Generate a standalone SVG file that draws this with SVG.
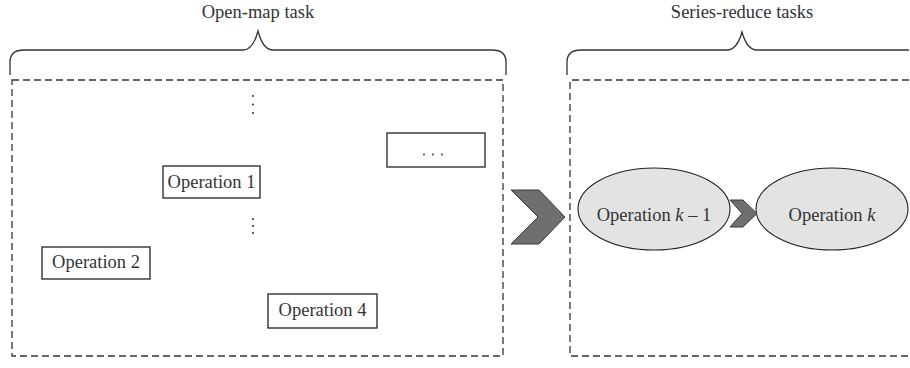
<svg xmlns="http://www.w3.org/2000/svg" width="910" height="368" viewBox="0 0 910 368">
  <style>
    .lbl { font-family: "Liberation Serif", "DejaVu Serif", serif; font-size: 18.5px; fill: #333; }
    .brace { fill: none; stroke: #333; stroke-width: 1.3; }
    .frame { fill: none; stroke: #333; stroke-width: 1.3; stroke-dasharray: 7 4; }
    .box { fill: #fff; stroke: #222; stroke-width: 1.3; }
    .oval { fill: #e3e3e3; stroke: #222; stroke-width: 1.1; }
    .chev { fill: #6f6f6f; stroke: #3a3a3a; stroke-width: 1; stroke-linejoin: miter; }
    .dot { fill: #333; }
  </style>

  <!-- Open-map task: title, brace, frame -->
  <g id="open-map">
    <text class="lbl" x="258" y="18" text-anchor="middle">Open-map task</text>
    <path class="brace" d="M10 75 V62 Q10 50 24 50 H243 Q253 50 258 31 Q263 50 273 50 H492 Q506 50 506 62 V75"/>
    <rect class="frame" x="12" y="80" width="491" height="276"/>
  </g>

  <!-- Series-reduce tasks: title, brace, frame -->
  <g id="series-reduce">
    <text class="lbl" x="742" y="18" text-anchor="middle">Series-reduce tasks</text>
    <path class="brace" d="M567 75 V62 Q567 50 581 50 H727 Q737 50 742 32 Q747 50 757 50 H909"/>
    <path class="frame" d="M909 80 H570 V356 H909"/>
  </g>

  <!-- vertical ellipses -->
  <g id="vdots-top">
    <circle class="dot" cx="253" cy="96" r="1"/>
    <circle class="dot" cx="253" cy="104.5" r="1"/>
    <circle class="dot" cx="253" cy="113" r="1"/>
  </g>
  <g id="vdots-mid">
    <circle class="dot" cx="253" cy="219" r="1"/>
    <circle class="dot" cx="253" cy="226" r="1"/>
    <circle class="dot" cx="253" cy="233" r="1"/>
  </g>

  <g id="op-more">
    <rect class="box" x="387" y="133" width="98" height="34"/>
    <circle class="dot" cx="424" cy="154.5" r="0.9"/>
    <circle class="dot" cx="433" cy="154.5" r="0.9"/>
    <circle class="dot" cx="442" cy="154.5" r="0.9"/>
  </g>

  <g id="op1">
    <rect class="box" x="163" y="166" width="97" height="32"/>
    <text class="lbl" x="211.5" y="188" text-anchor="middle">Operation 1</text>
  </g>

  <g id="op2">
    <rect class="box" x="42" y="247" width="108" height="32"/>
    <text class="lbl" x="96" y="268" text-anchor="middle">Operation 2</text>
  </g>

  <g id="op4">
    <rect class="box" x="268" y="294" width="109" height="34"/>
    <text class="lbl" x="322.5" y="316" text-anchor="middle">Operation 4</text>
  </g>

  <g id="op-k1">
    <ellipse class="oval" cx="654" cy="209" rx="76" ry="41"/>
    <text class="lbl" x="654" y="221" text-anchor="middle">Operation <tspan font-style="italic">k</tspan> – 1</text>
  </g>

  <g id="op-k">
    <ellipse class="oval" cx="832" cy="209" rx="76" ry="41"/>
    <text class="lbl" x="832" y="221" text-anchor="middle">Operation <tspan font-style="italic">k</tspan></text>
  </g>

  <!-- flow chevrons -->
  <g id="connectors">
    <polygon class="chev" points="511,190 539,190 565,217 539,244 511,244 538,217"/>
    <polygon class="chev" points="730,200 743,200 757,213.5 743,227 730,227 742,213.5"/>
  </g>
</svg>
